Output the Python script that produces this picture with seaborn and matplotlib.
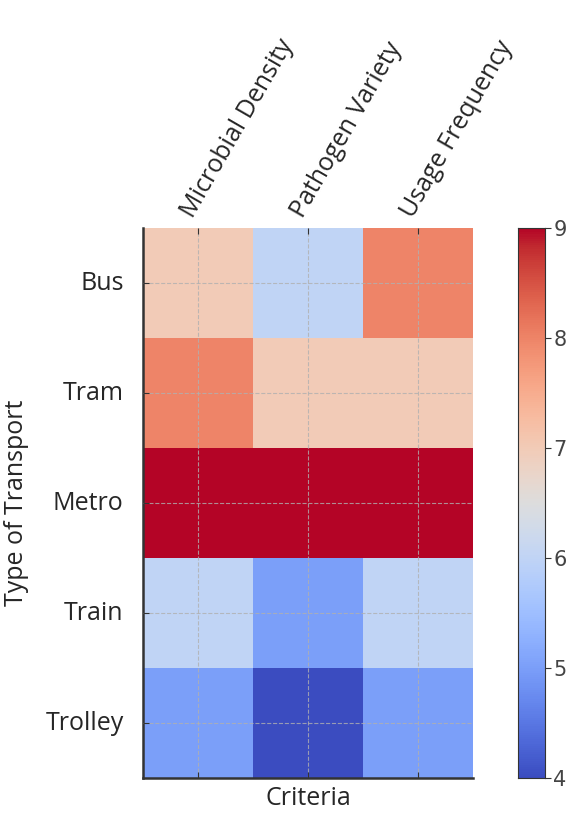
import matplotlib
matplotlib.use("Agg")
import matplotlib.pyplot as plt
import numpy as np
import pandas as pd
import seaborn as sns

# Datos del heatmap
transportes = ["Bus", "Tram", "Metro", "Train", "Trolley"]
criterios = ["Microbial Density", "Pathogen Variety", "Usage Frequency"]
microbial_density = [7, 8, 9, 6, 5]
pathogen_variety = [6, 7, 9, 5, 4]
usage_frequency = [8, 7, 9, 6, 5]

df = pd.DataFrame(
    {
        criterios[0]: microbial_density,
        criterios[1]: pathogen_variety,
        criterios[2]: usage_frequency,
    },
    index=transportes,
)

sns.set_style("white")
plt.rcParams["font.family"] = ["Open Sans", "DejaVu Sans"]

fig = plt.figure(figsize=(5.69, 8.16), dpi=100)
ax = fig.add_axes([143 / 569, 1 - 778 / 816, 330 / 569, 550 / 816])
cax = fig.add_axes([518 / 569, 1 - 778 / 816, 27 / 569, 550 / 816])

sns.heatmap(df, cmap="coolwarm", vmin=4, vmax=9, ax=ax, cbar_ax=cax)

# Rejilla punteada sobre las celdas
ax.set_axisbelow(False)
ax.grid(True, linestyle="--", color="#b0b0b0", linewidth=0.8, alpha=0.8)

# Ejes
for side in ["left", "bottom"]:
    ax.spines[side].set_visible(True)
    ax.spines[side].set_color("#333333")
    ax.spines[side].set_linewidth(1.8)
for side in ["top", "right"]:
    ax.spines[side].set_visible(False)

ax.tick_params(axis="x", top=True, bottom=True, labeltop=True, labelbottom=False,
               direction="in", length=4, color="#333333", pad=4)
ax.tick_params(axis="y", left=True, direction="in", length=4, color="#333333", pad=14)
ax.set_xticklabels(criterios, rotation=60, ha="left", rotation_mode="anchor", fontsize=18)
ax.set_yticklabels(transportes, rotation=0, fontsize=18)
ax.set_xlabel("Criteria", fontsize=18, labelpad=6)
ax.set_ylabel("Type of Transport", fontsize=18, labelpad=12)

cax.set_yticks([4, 5, 6, 7, 8, 9])
cax.tick_params(labelsize=15, colors="#333333", length=4, direction="out", pad=2)
for t in cax.get_yticklabels():
    t.set_color("#444444")
    t.set_fontfamily("DejaVu Sans")
for s in cax.spines.values():
    s.set_visible(True)
    s.set_color("#333333")

fig.savefig("out.png", dpi=100)
